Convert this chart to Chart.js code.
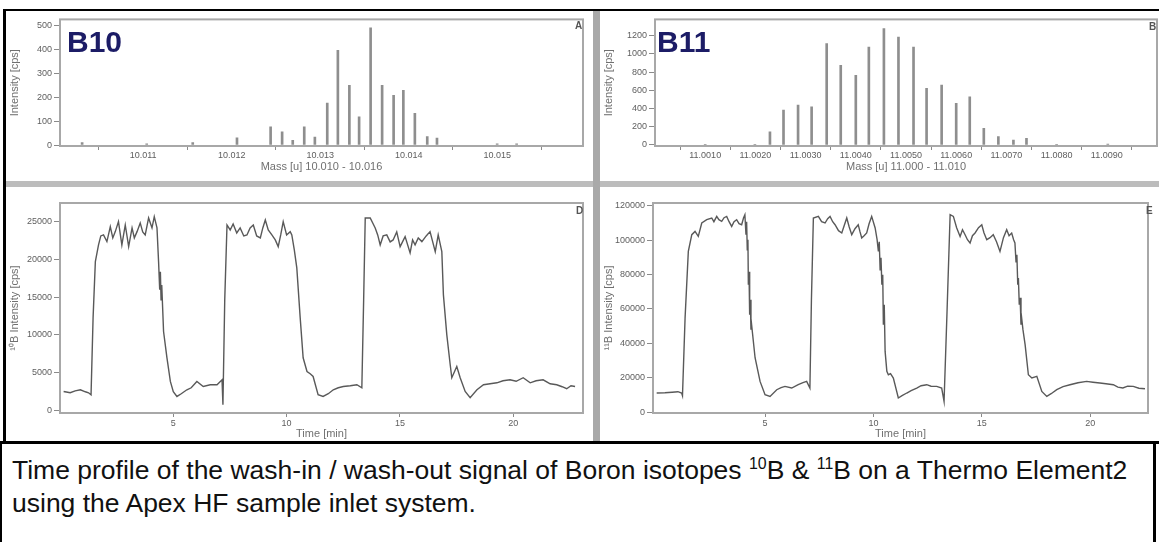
<!DOCTYPE html>
<html>
<head>
  <meta charset="utf-8">
  <title>Boron wash-in / wash-out</title>
  <script src="https://cdn.jsdelivr.net/npm/chart.js"></script>
  <style>
    body {
      margin: 0;
      width: 1159px;
      height: 542px;
      position: relative;
      overflow: hidden;
      background: #fff;
      font-family: Arial, "Liberation Sans", sans-serif;
    }
    canvas, .line, .txt { position: absolute; }
    .line { background: #000; }
    .sep { position: absolute; background: #bcbcbc; }
    .iso { font-size: 30px; font-weight: bold; color: #1c1c66; line-height: 30px; }
    .tag { font-size: 10px; font-weight: bold; color: #555; line-height: 10px; }
    .caption { left: 12px; top: 454px; font-size: 26.5px; line-height: 33px; color: #111; white-space: nowrap; }
    .caption sup { font-size: 60%; line-height: 0; }
  </style>
</head>
<body>
  <!-- frame -->
  <div class="line" style="left:3px;top:9px;width:1156px;height:2px"></div>
  <div class="line" style="left:3px;top:9px;width:3px;height:433px"></div>
  <div class="sep" style="left:6px;top:181px;width:1153px;height:6px"></div>
  <div class="sep" style="left:593px;top:11px;width:7px;height:430px;background:#a9a9a9"></div>
  <div class="line" style="left:0;top:441px;width:1159px;height:3px"></div>
  <div class="line" style="left:0;top:441px;width:2px;height:101px"></div>
  <div class="line" style="left:1153px;top:441px;width:3px;height:101px"></div>

  <canvas id="chartA" width="588" height="168" style="left:5px;top:12px"></canvas>
  <canvas id="chartB" width="558" height="168" style="left:601px;top:12px"></canvas>
  <canvas id="chartD" width="588" height="253" style="left:5px;top:188px"></canvas>
  <canvas id="chartE" width="558" height="253" style="left:601px;top:188px"></canvas>

  <div class="txt iso" style="left:67px;top:27px">B10</div>
  <div class="txt iso" style="left:657px;top:27px">B11</div>
  <div class="txt tag" style="left:575px;top:21px">A</div>
  <div class="txt tag" style="left:1149px;top:22px">B</div>
  <div class="txt tag" style="left:576px;top:206px">D</div>
  <div class="txt tag" style="left:1146px;top:206px">E</div>

  <div class="txt caption">Time profile of the wash-in / wash-out signal of Boron isotopes <sup>10</sup>B &amp; <sup>11</sup>B on a Thermo Element2<br>using the Apex HF sample inlet system.</div>

  <script>
    // A: 10B mass scan
    const massA = [10.01031, 10.01104, 10.01156, 10.01206, 10.01244, 10.01257, 10.01269, 10.01282, 10.01294, 10.01308, 10.01320,
                   10.01333, 10.01344, 10.01357, 10.01370, 10.01383, 10.01394, 10.01407, 10.01421, 10.01432, 10.01500, 10.01522];
    const countsA = [10, 5, 10, 30, 76, 55, 20, 76, 33, 175, 396, 250, 118, 490, 250, 208, 229, 133, 35, 29, 5, 5];
    const massTicksA = [10.011, 10.012, 10.013, 10.014, 10.015];
    const yTicksA = [0, 100, 200, 300, 400, 500];

    // B: 11B mass scan
    const massB = [11.00100, 11.00199, 11.00229, 11.00256, 11.00285, 11.00312, 11.00342, 11.00370, 11.00400, 11.00426, 11.00456, 11.00485,
                   11.00515, 11.00541, 11.00571, 11.00600, 11.00627, 11.00655, 11.00684, 11.00714, 11.00740, 11.00800, 11.00902];
    const countsB = [6, 6, 145, 383, 437, 419, 1112, 874, 765, 1074, 1275, 1184, 1074, 620, 656, 456, 528, 182, 91, 55, 73, 8, 10];
    const massTicksB = [11.001, 11.002, 11.003, 11.004, 11.005, 11.006, 11.007, 11.008, 11.009];
    const yTicksB = [0, 200, 400, 600, 800, 1000, 1200];

    // D: 10B time profile
    const timeD = [0.16, 0.45, 0.67, 0.90, 1.12, 1.26, 1.37, 1.46, 1.56, 1.70,
      1.80, 1.92, 2.07, 2.22, 2.33, 2.44, 2.58, 2.73, 2.88, 3.03,
      3.18, 3.28, 3.40, 3.54, 3.65, 3.76, 3.91, 4.06, 4.16, 4.28,
      4.35, 4.40, 4.43, 4.46, 4.49, 4.57, 4.72, 4.87, 5.00, 5.16,
      5.35, 5.60, 5.79, 6.04, 6.32, 6.63, 6.93, 7.15, 7.19, 7.27,
      7.37, 7.51, 7.64, 7.80, 7.95, 8.11, 8.25, 8.39, 8.53, 8.68,
      8.84, 8.95, 9.06, 9.19, 9.35, 9.50, 9.63, 9.74, 9.85, 10.00,
      10.16, 10.23, 10.34, 10.45, 10.60, 10.73, 10.90, 11.04, 11.17, 11.39,
      11.61, 11.84, 12.06, 12.28, 12.50, 12.81, 13.10, 13.32, 13.40, 13.47,
      13.69, 13.91, 14.02, 14.13, 14.26, 14.42, 14.57, 14.70, 14.86, 15.01,
      15.23, 15.45, 15.56, 15.67, 15.81, 15.97, 16.16, 16.33, 16.56, 16.69,
      16.85, 16.92, 17.07, 17.22, 17.29, 17.51, 17.66, 17.88, 18.10, 18.40,
      18.69, 18.98, 19.28, 19.55, 19.86, 20.13, 20.44, 20.75, 21.01, 21.32,
      21.63, 21.92, 22.16, 22.36, 22.55, 22.73];
    const signalD = [2510, 2340, 2600, 2740, 2470, 2340, 2080, 12260, 19710, 21920,
      23110, 23240, 22360, 24340, 22850, 23680, 25000, 21920, 24560, 21690,
      24170, 22850, 23680, 24830, 23640, 23240, 25490, 24170, 25660, 24170,
      19710, 15970, 18350, 14640, 16620, 10450, 6970, 3840, 2470, 1850,
      2210, 2740, 3000, 3840, 3170, 3400, 3400, 4060, 750, 14640,
      24560, 23900, 24700, 23500, 24170, 23110, 23240, 24170, 24560, 23110,
      22850, 24170, 25220, 23900, 23240, 22580, 21690, 23240, 25000, 23240,
      23680, 23240, 21260, 18880, 12260, 6970, 5160, 4850, 4500, 2080,
      1850, 2210, 2740, 3000, 3170, 3270, 3400, 3000, 14640, 25490,
      25490, 24170, 23240, 21920, 23110, 23240, 22320, 22580, 23640, 21690,
      23020, 20860, 22580, 21920, 22850, 22360, 23110, 23680, 21030, 23240,
      21030, 15300, 10010, 6050, 4330, 5820, 4330, 2510, 1680, 2740,
      3400, 3530, 3660, 3930, 4060, 3860, 4330, 3660, 3930, 4060,
      3530, 3400, 3140, 2870, 3270, 3170];
    const yTicksD = [0, 5000, 10000, 15000, 20000, 25000];

    // E: 11B time profile
    const timeE = [0.00, 0.38, 0.71, 0.98, 1.15, 1.19, 1.31, 1.46, 1.62, 1.77,
      1.92, 2.08, 2.31, 2.54, 2.64, 2.77, 2.87, 3.00, 3.11, 3.23,
      3.34, 3.46, 3.57, 3.69, 3.80, 3.92, 4.01, 4.07, 4.12, 4.15,
      4.18, 4.21, 4.23, 4.26, 4.29, 4.32, 4.35, 4.38, 4.54, 4.77,
      5.00, 5.23, 5.54, 5.74, 5.92, 6.23, 6.53, 6.75, 6.92, 7.07,
      7.14, 7.23, 7.46, 7.61, 7.77, 7.89, 8.00, 8.12, 8.23, 8.39,
      8.54, 8.65, 8.77, 8.88, 9.00, 9.15, 9.30, 9.38, 9.46, 9.57,
      9.69, 9.80, 9.92, 10.08, 10.17, 10.23, 10.27, 10.31, 10.35, 10.39,
      10.43, 10.46, 10.50, 10.54, 10.62, 10.69, 10.79, 10.92, 11.15, 11.32,
      11.54, 11.74, 12.00, 12.20, 12.46, 12.66, 12.92, 13.15, 13.26, 13.40,
      13.54, 13.69, 13.84, 14.00, 14.11, 14.23, 14.34, 14.46, 14.57, 14.69,
      14.85, 15.00, 15.10, 15.23, 15.38, 15.53, 15.68, 15.84, 16.00, 16.15,
      16.26, 16.38, 16.47, 16.53, 16.58, 16.62, 16.66, 16.69, 16.73, 16.77,
      16.81, 16.84, 16.90, 17.00, 17.15, 17.31, 17.54, 17.77, 18.00, 18.20,
      18.46, 18.75, 19.07, 19.44, 19.84, 20.13, 20.45, 20.73, 21.07, 21.28,
      21.51, 21.73, 21.99, 22.25, 22.53];
    const signalE = [11100, 11280, 11570, 11860, 11100, 9530, 54710, 93430, 103140, 105060,
      102150, 109940, 111860, 112850, 110700, 113780, 111860, 110870, 113020, 113780,
      110700, 107970, 110700, 111860, 109530, 108950, 113020, 114770, 103140, 110700,
      94420, 100240, 74070, 81630, 56630, 65350, 47910, 50810, 31630, 17850,
      10120, 9130, 13020, 14190, 14940, 14010, 15930, 17090, 17850, 14010,
      65350, 112850, 113780, 110700, 109940, 112440, 113780, 110700, 108950, 105470,
      104130, 108370, 112850, 107790, 103140, 106630, 108950, 104890, 101220, 102560,
      104130, 109530, 113780, 107040, 100240, 93430, 99070, 82790, 89770, 74070,
      79880, 50810, 62440, 35290, 23660, 21740, 22330, 19830, 8200, 9530,
      11100, 12440, 14010, 15350, 15930, 15060, 14940, 14010, 6220, 59530,
      114770, 113780, 107210, 102150, 106050, 103140, 100240, 98320, 102560, 104130,
      107210, 108950, 104300, 100240, 101400, 103140, 99070, 93430, 101400, 106050,
      102560, 104130, 100240, 98320, 87440, 91510, 74070, 77970, 62440, 66510,
      50810, 54710, 47910, 39190, 21740, 19830, 20760, 12040, 9130, 10700,
      13020, 14770, 15930, 17090, 17850, 17380, 16920, 16510, 15930, 14480,
      14010, 15060, 14940, 13900, 13600];
    const yTicksE = [0, 20000, 40000, 60000, 80000, 100000, 120000];

    const timeTicks = [5, 10, 15, 20];

    const tickFont = { family: 'Arial, "Liberation Sans", sans-serif', size: 9 };
    const titleFont = { family: 'Arial, "Liberation Sans", sans-serif', size: 11 };

    // gray box around the plot area
    const framePlugin = {
      id: 'frame',
      beforeDatasetsDraw(chart) {
        const { ctx, chartArea: a } = chart;
        ctx.save();
        ctx.strokeStyle = '#a8a8a8';
        ctx.lineWidth = 2;
        ctx.strokeRect(a.left, a.top, a.right - a.left, a.bottom - a.top);
        ctx.restore();
      }
    };

    function fixedTicks(values) {
      return scale => { scale.ticks = values.map(v => ({ value: v })); };
    }

    function points(xs, ys) {
      return xs.map((x, i) => ({ x: x, y: ys[i] }));
    }

    function panelOptions(c) {
      return {
        responsive: false,
        animation: false,
        devicePixelRatio: 1,
        layout: { padding: { top: c.top, right: c.right, bottom: 0, left: 0 } },
        plugins: { legend: { display: false }, tooltip: { enabled: false } },
        scales: {
          x: {
            type: 'linear', min: c.xMin, max: c.xMax, offset: false,
            afterBuildTicks: fixedTicks(c.xTicks),
            afterFit: s => { s.height = c.xHeight; },
            grid: { drawOnChartArea: false, drawTicks: true, tickLength: 4, color: '#8a8a8a' },
            border: { display: false },
            ticks: { padding: c.xPad, color: '#5e5e5e', font: tickFont, callback: c.xFormat, maxRotation: 0, autoSkip: false },
            title: { display: true, text: c.xTitle, color: '#707070', font: titleFont, padding: { top: 0, bottom: c.xTitlePad } }
          },
          y: {
            min: c.yMin, max: c.yMax,
            afterBuildTicks: fixedTicks(c.yTicks),
            afterFit: s => { s.width = c.yWidth; },
            grid: { drawOnChartArea: false, drawTicks: true, tickLength: 6, color: '#8a8a8a' },
            border: { display: false },
            ticks: { padding: 2, color: '#5e5e5e', font: tickFont, autoSkip: false, callback: v => String(v) },
            title: { display: true, text: c.yTitle, color: '#707070', font: titleFont, padding: { top: c.yTitlePad, bottom: 0 } }
          }
        }
      };
    }

    new Chart(document.getElementById('chartA'), {
      type: 'bar',
      data: { datasets: [{ data: points(massA, countsA), backgroundColor: '#8e8e8e', barThickness: 2 }] },
      options: panelOptions({
        top: 7, right: 10, xHeight: 34, yWidth: 55, xPad: 0, xTitlePad: 6, yTitlePad: 3,
        xMin: 10.01006, xMax: 10.01597, xTicks: massTicksA, xFormat: v => v.toFixed(3),
        xTitle: 'Mass [u] 10.010 - 10.016',
        yMin: -4, yMax: 525, yTicks: yTicksA, yTitle: 'Intensity [cps]'
      }),
      plugins: [framePlugin]
    });

    new Chart(document.getElementById('chartB'), {
      type: 'bar',
      data: { datasets: [{ data: points(massB, countsB), backgroundColor: '#8e8e8e', barThickness: 2 }] },
      options: panelOptions({
        top: 7, right: 2, xHeight: 34, yWidth: 54, xPad: 0, xTitlePad: 6, yTitlePad: 1,
        xMin: 11.0, xMax: 11.01, xTicks: massTicksB, xFormat: v => v.toFixed(4),
        xTitle: 'Mass [u] 11.000 - 11.010',
        yMin: -11, yMax: 1377, yTicks: yTicksB, yTitle: 'Intensity [cps]'
      }),
      plugins: [framePlugin]
    });

    new Chart(document.getElementById('chartD'), {
      type: 'line',
      data: { datasets: [{ data: points(timeD, signalD), borderColor: '#595959', borderWidth: 1.4, pointRadius: 0, tension: 0 }] },
      options: panelOptions({
        top: 15, right: 10, xHeight: 28, yWidth: 55, xPad: 1, xTitlePad: 0, yTitlePad: 3,
        xMin: 0, xMax: 23.08, xTicks: timeTicks, xFormat: v => String(v),
        xTitle: 'Time [min]',
        yMin: -340, yMax: 27470, yTicks: yTicksD, yTitle: '\u00B9\u2070B Intensity [cps]'
      }),
      plugins: [framePlugin]
    });

    new Chart(document.getElementById('chartE'), {
      type: 'line',
      data: { datasets: [{ data: points(timeE, signalE), borderColor: '#595959', borderWidth: 1.4, pointRadius: 0, tension: 0 }] },
      options: panelOptions({
        top: 15, right: 11, xHeight: 28, yWidth: 52, xPad: 1, xTitlePad: 0, yTitlePad: 1,
        xMin: -0.17, xMax: 22.67, xTicks: timeTicks, xFormat: v => String(v),
        xTitle: 'Time [min]',
        yMin: -520, yMax: 121570, yTicks: yTicksE, yTitle: '\u00B9\u00B9B Intensity [cps]'
      }),
      plugins: [framePlugin]
    });
  </script>
</body>
</html>
